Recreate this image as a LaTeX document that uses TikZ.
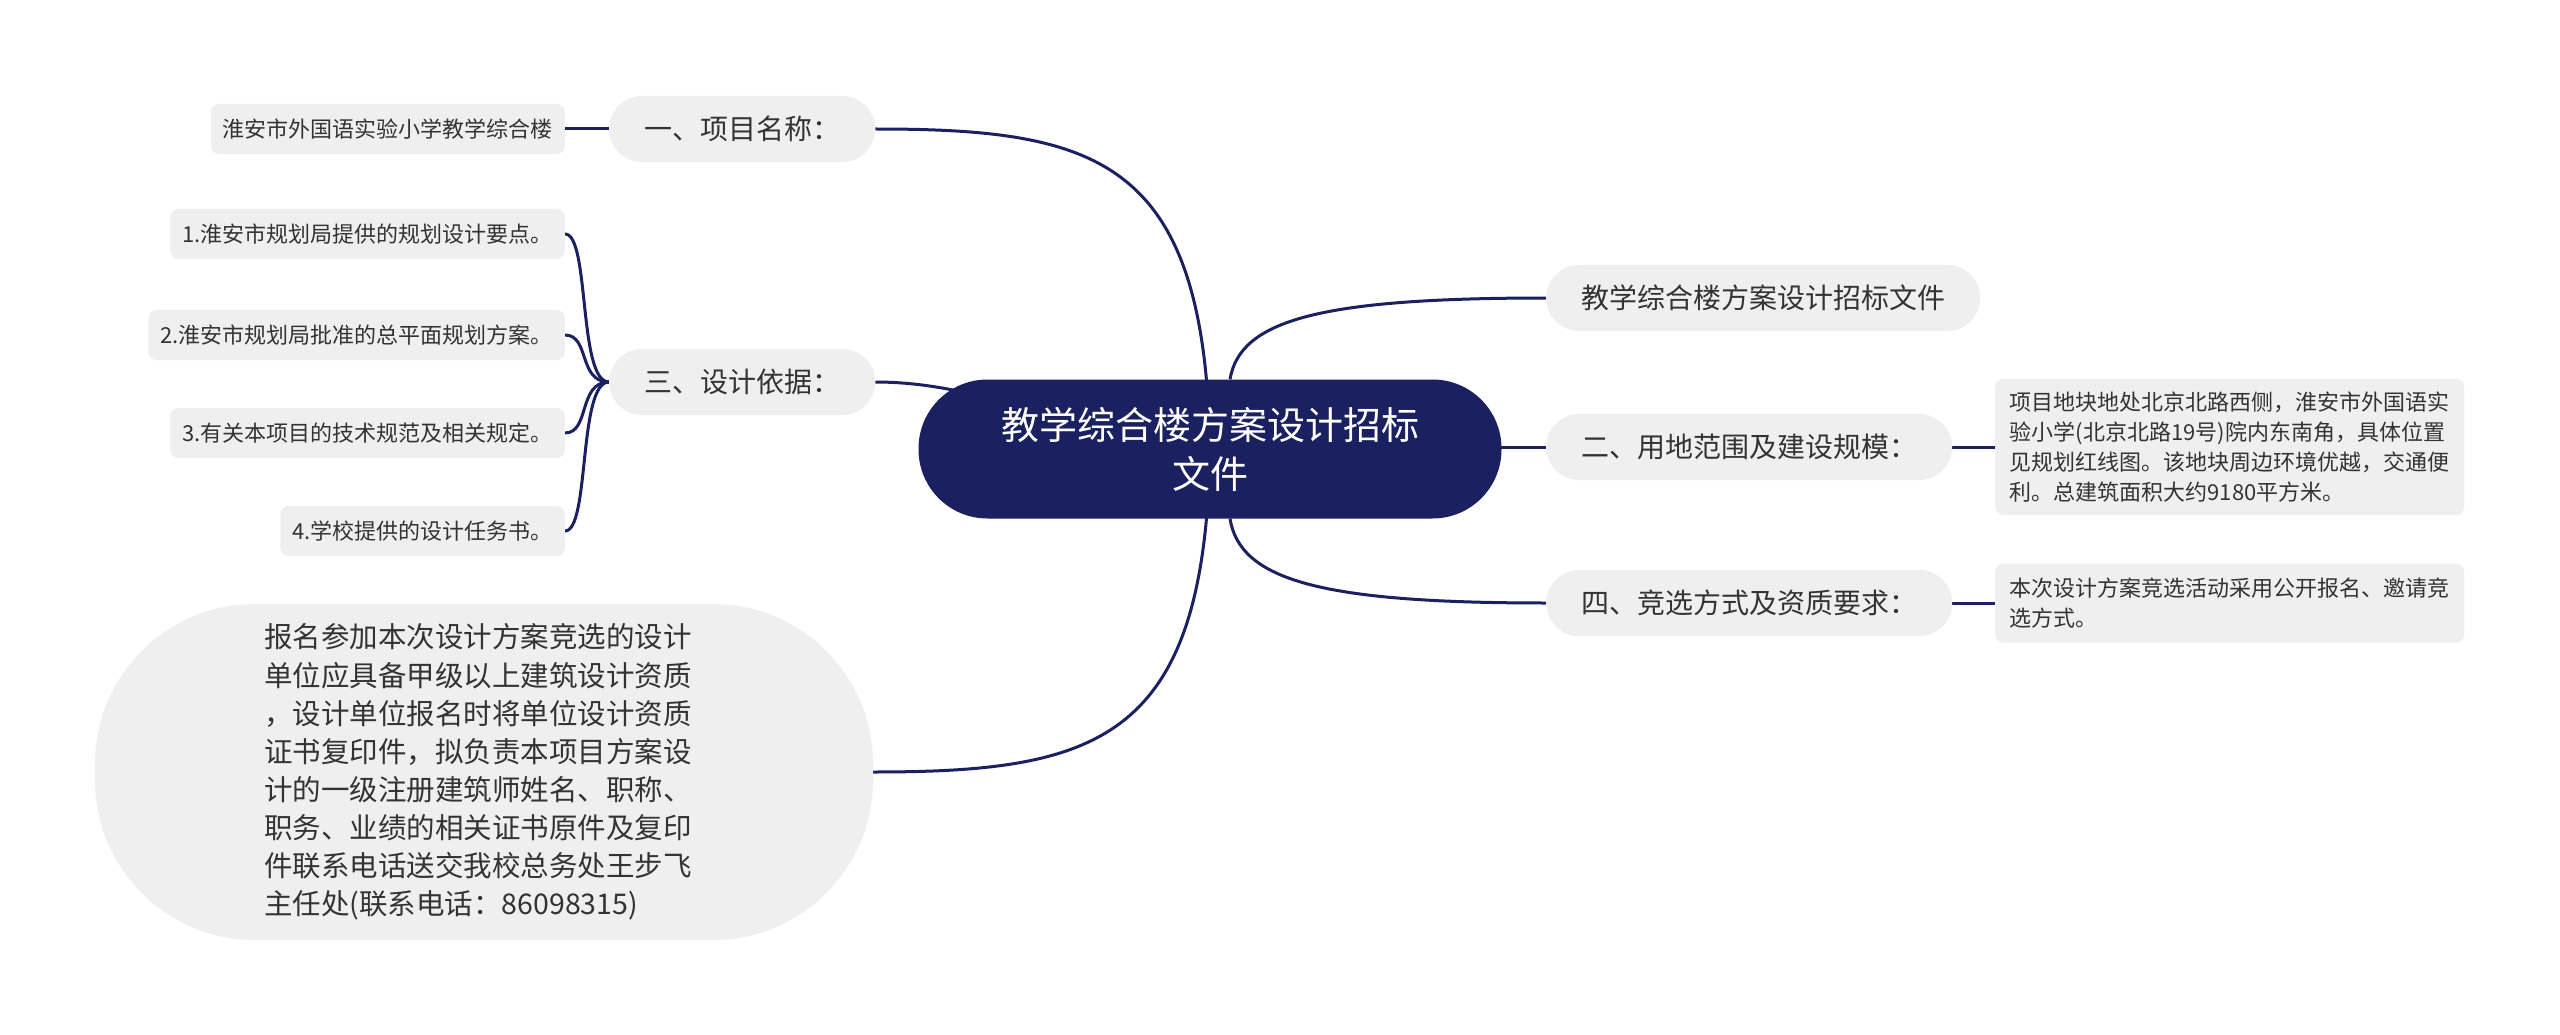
\documentclass[tikz,border=0pt]{standalone}
\usepackage{fontspec}
\newfontfamily\cjk{Noto Sans CJK SC}
\usetikzlibrary{backgrounds,calc}
\definecolor{navy}{RGB}{27,33,96}
\definecolor{boxgray}{RGB}{239,239,239}
\definecolor{txt}{RGB}{51,51,51}
\begin{document}
\begin{tikzpicture}[x=1pt,y=-1pt,
  base/.style={inner sep=0pt, align=center, text=txt},
  rootbox/.style={base, fill=navy, text=white, minimum width=583pt, minimum height=139pt, rounded corners=69pt, font=\cjk\fontsize{38}{49}\selectfont},
  branch/.style={base, fill=boxgray, minimum height=66pt, inner xsep=35pt, rounded corners=33pt, font=\cjk\fontsize{28}{34}\selectfont},
  leaf/.style={base, fill=boxgray, minimum height=50pt, inner xsep=12pt, rounded corners=8pt, font=\cjk\fontsize{22}{30}\selectfont},
  detail/.style={base, fill=boxgray, align=left, minimum width=469pt, rounded corners=8pt, font=\cjk\fontsize{22}{30}\selectfont},
  bignode/.style={base, fill=boxgray, align=left, minimum width=778pt, minimum height=336pt, rounded corners=160pt, font=\cjk\fontsize{28.5}{38.1}\selectfont},
  link/.style={draw=navy, line width=3pt}
]
\useasboundingbox (0,0) rectangle (2560,1035);

\node[rootbox] (c) at (1210,449) {教学综合楼方案设计招标\\文件};

\node[branch, anchor=west] (n1) at (609,129) {一、项目名称：};
\node[leaf, anchor=east] (l1) at (565,129) {淮安市外国语实验小学教学综合楼};

\node[branch, anchor=west] (n3) at (609,382) {三、设计依据：};
\node[leaf, anchor=east] (i1) at (565,234) {1.淮安市规划局提供的规划设计要点。};
\node[leaf, anchor=east] (i2) at (565,335) {2.淮安市规划局批准的总平面规划方案。};
\node[leaf, anchor=east] (i3) at (565,433) {3.有关本项目的技术规范及相关规定。};
\node[leaf, anchor=east] (i4) at (565,531) {4.学校提供的设计任务书。};

\node[bignode] (big) at (484,772) {报名参加本次设计方案竞选的设计\hspace*{12pt}\\单位应具备甲级以上建筑设计资质\\，设计单位报名时将单位设计资质\\证书复印件，拟负责本项目方案设\\计的一级注册建筑师姓名、职称、\\职务、业绩的相关证书原件及复印\\件联系电话送交我校总务处王步飞\\主任处(联系电话：86098315)};

\node[branch, anchor=west] (r1) at (1546,298) {教学综合楼方案设计招标文件};
\node[branch, anchor=west] (n2) at (1546,447) {二、用地范围及建设规模：};
\node[branch, anchor=west] (n4) at (1546,603) {四、竞选方式及资质要求：};

\node[detail, anchor=west, minimum height=136pt] (d2) at (1995,447) {项目地块地处北京北路西侧，淮安市外国语实\\验小学(北京北路19号)院内东南角，具体位置\\见规划红线图。该地块周边环境优越，交通便\\利。总建筑面积大约9180平方米。};
\node[detail, anchor=west, minimum height=79pt] (d4) at (1995,603) {本次设计方案竞选活动采用公开报名、邀请竞\\选方式。};

\begin{pgfonlayer}{background}
\fill[white] (0,0) rectangle (2560,1035);
\draw[link] (c.center) .. controls (1205,160) and (1100,129) .. (n1.east);
\draw[link] (n1.west) -- (l1.east);
\draw[link] (n3.east) .. controls (1000,382) and (1100,449) .. (c.center);
\draw[link] (n3.west) .. controls (578,382) and (590,234) .. (i1.east);
\draw[link] (n3.west) .. controls (578,382) and (590,335) .. (i2.east);
\draw[link] (n3.west) .. controls (578,382) and (590,433) .. (i3.east);
\draw[link] (n3.west) .. controls (578,382) and (590,531) .. (i4.east);
\draw[link] (c.center) .. controls (1205,740) and (1100,772) .. (big.east);
\draw[link] ($(c.north)+(20,0)$) .. controls (1240,320) and (1320,298) .. (r1.west);
\draw[link] (c.center |- n2.west) -- (n2.west);
\draw[link] ($(c.south)+(20,0)$) .. controls (1240,580) and (1320,603) .. (n4.west);
\draw[link] (n2.east) -- (d2.west);
\draw[link] (n4.east) -- (d4.west);
\end{pgfonlayer}
\end{tikzpicture}
\end{document}
